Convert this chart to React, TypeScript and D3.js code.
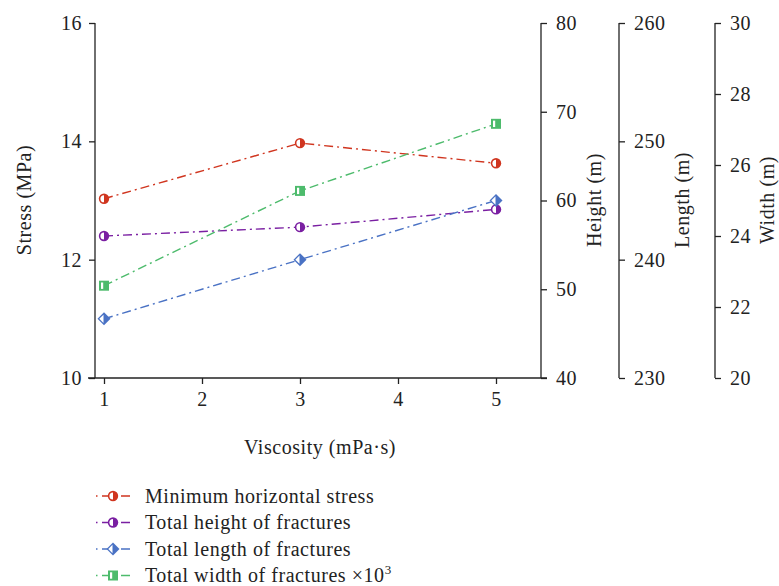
import React, { useEffect, useRef } from "react";
import * as d3 from "d3";

const viscosity = [1, 3, 5];
const stress = [13.03, 13.97, 13.63];
const height = [56.0, 57.0, 59.0];
const length = [235.0, 240.0, 245.0];
const width = [22.6, 25.27, 27.16];

const xTicks = [1, 2, 3, 4, 5];
const stressTicks = [10, 12, 14, 16];
const heightTicks = [40, 50, 60, 70, 80];
const lengthTicks = [230, 240, 250, 260];
const widthTicks = [20, 22, 24, 26, 28, 30];

const legendLabels = [
  "Minimum horizontal stress",
  "Total height of fractures",
  "Total length of fractures",
  "Total width of fractures \u00d710",
];

const FONT = "'Liberation Serif', 'Times New Roman', serif";
const FS = 20;
const LS = 0.55;

function App() {
  const svgRef = useRef<SVGSVGElement>(null);

  useEffect(() => {
    const svg = d3.select(svgRef.current);
    svg.selectAll("*").remove();

    const top = 23, bottom = 378;
    const x = d3.scaleLinear().domain([1, 5]).range([104, 496]);
    const yStress = d3.scaleLinear().domain([10, 16]).range([bottom, top]);
    const yHeight = d3.scaleLinear().domain([40, 80]).range([bottom, top]);
    const yLength = d3.scaleLinear().domain([230, 260]).range([bottom, top]);
    const yWidth = d3.scaleLinear().domain([20, 30]).range([bottom, top]);

    const styleAxis = (g: any) => {
      g.selectAll("path").attr("stroke", "#222").attr("stroke-width", 1.3);
      g.selectAll("line").attr("stroke", "#222").attr("stroke-width", 1.3);
      g.selectAll("text")
        .attr("font-family", FONT)
        .attr("font-size", FS)
        .attr("letter-spacing", LS)
        .attr("fill", "#222");
    };

    // left axis
    svg.append("g")
      .attr("transform", "translate(95,0)")
      .call(d3.axisLeft(yStress).tickValues(stressTicks).tickSize(6).tickPadding(7).tickFormat(d3.format("d")))
      .call(styleAxis)
      .call((g: any) => g.select(".domain").remove());
    svg.append("line")
      .attr("x1", 95).attr("x2", 95).attr("y1", top).attr("y2", bottom)
      .attr("stroke", "#222").attr("stroke-width", 1.3);

    // right axes
    const rights: [any, number[], number][] = [
      [yHeight, heightTicks, 541],
      [yLength, lengthTicks, 619],
      [yWidth, widthTicks, 715],
    ];
    rights.forEach(([sc, ticks, px]) => {
      svg.append("g")
        .attr("transform", `translate(${px},0)`)
        .call(d3.axisRight(sc).tickValues(ticks).tickSize(6).tickPadding(9).tickFormat(d3.format("d")))
        .call(styleAxis)
        .call((g: any) => g.select(".domain").remove());
      svg.append("line")
        .attr("x1", px).attr("x2", px).attr("y1", top).attr("y2", bottom)
        .attr("stroke", "#222").attr("stroke-width", 1.3);
    });

    // x axis
    svg.append("g")
      .attr("transform", `translate(0,${bottom})`)
      .call(d3.axisBottom(x).tickValues(xTicks).tickSize(6).tickPadding(8).tickFormat(d3.format("d")))
      .call(styleAxis)
      .call((g: any) => g.select(".domain").remove());
    svg.append("line")
      .attr("x1", 88).attr("x2", 547).attr("y1", bottom).attr("y2", bottom)
      .attr("stroke", "#222").attr("stroke-width", 1.3);

    // axis titles
    const title = (txt: string, tx: number, ty: number, rot: boolean) =>
      svg.append("text")
        .attr("transform", `translate(${tx},${ty})${rot ? " rotate(-90)" : ""}`)
        .attr("text-anchor", "middle")
        .attr("font-family", FONT)
        .attr("font-size", FS)
        .attr("letter-spacing", LS)
        .attr("fill", "#222")
        .text(txt);
    title("Viscosity (mPa\u00b7s)", 320, 454, false);
    title("Stress (MPa)", 31, 200, true);
    title("Height (m)", 601, 200, true);
    title("Length (m)", 689, 200, true);
    title("Width (m)", 774, 200, true);

    const series = [
      { values: stress, scale: yStress, color: "#d0351f", shape: "circle" },
      { values: height, scale: yHeight, color: "#7a1fa2", shape: "circle" },
      { values: length, scale: yLength, color: "#4a72c4", shape: "diamond" },
      { values: width, scale: yWidth, color: "#4dbb6c", shape: "square" },
    ];

    const drawMarker = (g: any, shape: string, color: string) => {
      if (shape === "circle") {
        g.append("circle").attr("r", 5.2).attr("fill", color);
        g.append("path").attr("d", "M0,-3.6 A3.6,3.6 0 0,0 0,3.6 Z").attr("fill", "#fff");
      } else if (shape === "diamond") {
        g.append("path").attr("d", "M0,-6.5 L6.5,0 L0,6.5 L-6.5,0 Z").attr("fill", color);
        g.append("path").attr("d", "M-0.5,-4.2 L-4.7,0 L-0.5,4.2 Z").attr("fill", "#fff");
      } else {
        g.append("rect").attr("x", -5).attr("y", -5).attr("width", 10).attr("height", 10).attr("fill", color);
        g.append("rect").attr("x", -3).attr("y", -3.2).attr("width", 2.2).attr("height", 6.4).attr("fill", "#fff");
      }
    };

    const dash = "9,4,2,4";

    series.forEach((s) => {
      const line = d3.line<number>()
        .x((_, i) => x(viscosity[i]))
        .y((d) => s.scale(d));
      svg.append("path")
        .datum(s.values)
        .attr("d", line)
        .attr("fill", "none")
        .attr("stroke", s.color)
        .attr("stroke-width", 1.4)
        .attr("stroke-dasharray", dash);
      s.values.forEach((v, i) => {
        const g = svg.append("g").attr("transform", `translate(${x(viscosity[i])},${s.scale(v)})`);
        drawMarker(g, s.shape, s.color);
      });
    });

    // legend
    series.forEach((s, i) => {
      const ly = 496 + i * 26.5;
      svg.append("line")
        .attr("x1", 96).attr("x2", 130).attr("y1", ly).attr("y2", ly)
        .attr("stroke", s.color).attr("stroke-width", 1.4)
        .attr("stroke-dasharray", "1.5,4.5,15,4,9,10");
      const g = svg.append("g").attr("transform", `translate(113,${ly})`);
      drawMarker(g, s.shape, s.color);
      const t = svg.append("text")
        .attr("x", 145).attr("y", ly + 6.5)
        .attr("font-family", FONT)
        .attr("font-size", FS)
        .attr("letter-spacing", LS)
        .attr("fill", "#222")
        .text(legendLabels[i]);
      if (i === 3) {
        t.append("tspan").attr("dy", -8).attr("font-size", 13).text("3");
      }
    });
  }, []);

  return (
    <svg ref={svgRef} width={779} height={586} style={{ position: "absolute", left: 0, top: 0, background: "#fff" }} />
  );
}

export default App;
